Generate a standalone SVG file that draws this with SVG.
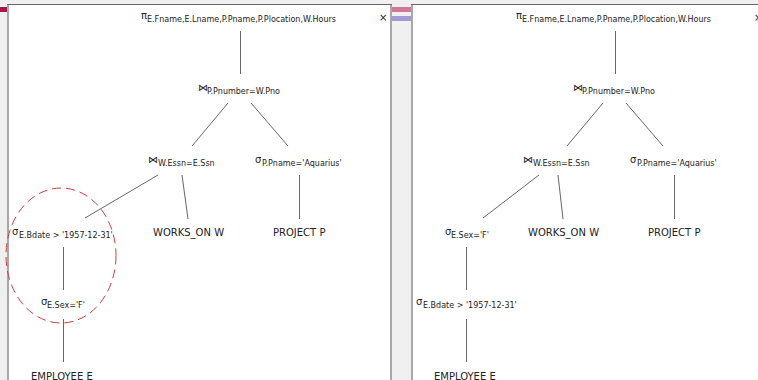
<svg xmlns="http://www.w3.org/2000/svg" width="758" height="380" viewBox="0 0 758 380">
<style>
text{font-family:"DejaVu Sans","Liberation Sans",sans-serif;fill:#222;font-size:10px}
.s{font-size:8px}
.ln{stroke:#666;stroke-width:1;fill:none}
.side{stroke:#a8a8a8;stroke-width:2}
.top{stroke:#666;stroke-width:1}
</style>
<rect x="0" y="0" width="758" height="380" fill="#f0f0f0"/>
<rect x="0" y="7" width="7" height="5" fill="#a8174c"/>
<rect x="392" y="7" width="19" height="5" fill="#d0789a"/>
<rect x="392" y="16" width="19" height="5" fill="#a49cd4"/>
<g id="panel-left">
<rect x="7" y="4" width="384" height="376" fill="#fff"/>
<line class="side" x1="8" y1="4" x2="8" y2="380"/>
<line class="side" x1="391" y1="4" x2="391" y2="380"/>
<line class="top" x1="7" y1="4.5" x2="392" y2="4.5"/>
<text x="379" y="21" font-size="12">×</text>
</g>
<g id="panel-right">
<rect x="411" y="4" width="347" height="376" fill="#fff"/>
<line class="side" x1="412" y1="4" x2="412" y2="380"/>
<line class="top" x1="411" y1="4.5" x2="758" y2="4.5"/>
<text x="754" y="21" font-size="12">×</text>
</g>
<g id="connectors">
<line class="ln" x1="240.5" y1="31" x2="240.5" y2="74"/>
<line class="ln" x1="228" y1="103" x2="192" y2="146"/>
<line class="ln" x1="251" y1="103" x2="288" y2="146"/>
<line class="ln" x1="158" y1="175" x2="85" y2="218"/>
<line class="ln" x1="182" y1="175" x2="188" y2="219"/>
<line class="ln" x1="299.5" y1="175" x2="299.5" y2="219"/>
<line class="ln" x1="63.5" y1="247" x2="63.5" y2="290"/>
<line class="ln" x1="63.5" y1="319" x2="63.5" y2="362"/>
<line class="ln" x1="615.5" y1="31" x2="615.5" y2="74"/>
<line class="ln" x1="603" y1="103" x2="567" y2="146"/>
<line class="ln" x1="626" y1="103" x2="663" y2="146"/>
<line class="ln" x1="539" y1="175" x2="483" y2="218"/>
<line class="ln" x1="558" y1="175" x2="563" y2="219"/>
<line class="ln" x1="674.5" y1="175" x2="674.5" y2="219"/>
<line class="ln" x1="466.5" y1="247" x2="466.5" y2="290"/>
<line class="ln" x1="466.5" y1="319" x2="466.5" y2="362"/>
</g>
<g id="L-proj"><text x="141" y="19">π<tspan class="s" x="147" y="22">E.Fname,E.Lname,P.Pname,P.Plocation,W.Hours</tspan></text></g>
<g id="L-join1"><text x="198" y="91">⋈<tspan class="s" x="207" y="94">P.Pnumber=W.Pno</tspan></text></g>
<g id="L-join2"><text x="148" y="163">⋈<tspan class="s" x="158" y="166">W.Essn=E.Ssn</tspan></text></g>
<g id="L-selP"><text x="255" y="163">σ<tspan class="s" x="262" y="166">P.Pname='Aquarius'</tspan></text></g>
<g id="L-selBdate"><text x="12" y="235">σ<tspan class="s" x="19" y="238">E.Bdate &gt; '1957-12-31'</tspan></text></g>
<g id="L-works"><text x="153" y="236">WORKS_ON W</text></g>
<g id="L-project"><text x="273" y="236">PROJECT P</text></g>
<g id="L-selSex"><text x="41" y="305">σ<tspan class="s" x="47" y="308">E.Sex='F'</tspan></text></g>
<g id="L-employee"><text x="31" y="380">EMPLOYEE E</text></g>
<g id="highlight"><ellipse cx="61" cy="255.5" rx="55" ry="67.5" fill="none" stroke="#d43a3a" stroke-width="1" stroke-dasharray="9 5"/></g>
<g id="R-proj"><text x="516" y="19">π<tspan class="s" x="522" y="22">E.Fname,E.Lname,P.Pname,P.Plocation,W.Hours</tspan></text></g>
<g id="R-join1"><text x="573" y="91">⋈<tspan class="s" x="582" y="94">P.Pnumber=W.Pno</tspan></text></g>
<g id="R-join2"><text x="523" y="163">⋈<tspan class="s" x="533" y="166">W.Essn=E.Ssn</tspan></text></g>
<g id="R-selP"><text x="630" y="163">σ<tspan class="s" x="637" y="166">P.Pname='Aquarius'</tspan></text></g>
<g id="R-selSex"><text x="445" y="235">σ<tspan class="s" x="451" y="238">E.Sex='F'</tspan></text></g>
<g id="R-works"><text x="528" y="236">WORKS_ON W</text></g>
<g id="R-project"><text x="648" y="236">PROJECT P</text></g>
<g id="R-selBdate"><text x="416" y="305">σ<tspan class="s" x="423" y="308">E.Bdate &gt; '1957-12-31'</tspan></text></g>
<g id="R-employee"><text x="434" y="380">EMPLOYEE E</text></g>
</svg>
